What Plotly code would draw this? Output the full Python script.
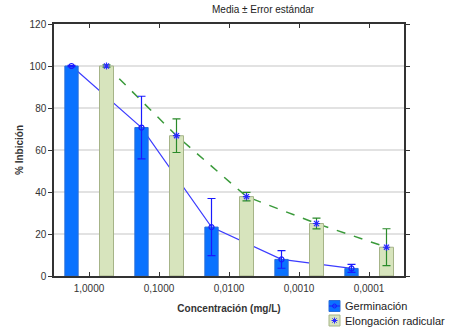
import plotly.graph_objects as go

categories = ["1,0000", "0,1000", "0,0100", "0,0010", "0,0001"]
germ_mean = [100.0, 70.7, 23.3, 7.9, 3.6]
germ_err = [0.3, 14.9, 13.6, 4.2, 1.9]
elong_mean = [100.0, 66.8, 37.8, 25.0, 13.7]
elong_err = [0.6, 8.0, 2.0, 2.6, 8.8]
y_ticks = [0, 20, 40, 60, 80, 100, 120]
legend_names = ["Germinación", "Elongación radicular"]

idx = list(range(len(categories)))
x_germ = [i - 0.25 for i in idx]
x_elong = [i + 0.25 for i in idx]

font_family = "Liberation Sans, Arial, sans-serif"
W, H = 451, 332
L, R, T, B = 54, 47, 24, 56
pw, ph = W - L - R, H - T - B


def px(x):
    return (x - L) / pw


def py(y):
    return (H - B - y) / ph


GERM_FILL, GERM_EDGE = "#0a72ff", "#2a6fd8"
EL_FILL, EL_EDGE = "#d7e4bd", "#a6b488"
BLUE = "#1a1aff"
GREEN_LINE = "#3a9a3a"

fig = go.Figure()

# connecting lines (drawn underneath the bars)
fig.add_trace(go.Scatter(
    x=x_germ, y=germ_mean, mode="lines", yaxis="y",
    line=dict(color="#3c3cff", width=1.2),
))
fig.add_trace(go.Scatter(
    x=x_elong, y=elong_mean, mode="lines", yaxis="y",
    line=dict(color=GREEN_LINE, width=1.5, dash="dash"),
))

# bars
fig.add_trace(go.Bar(
    x=idx, y=germ_mean, name=legend_names[0], yaxis="y2",
    width=0.19, offset=-0.345,
    marker=dict(color=GERM_FILL, line=dict(color=GERM_EDGE, width=1)),
))
fig.add_trace(go.Bar(
    x=idx, y=elong_mean, name=legend_names[1], yaxis="y2",
    width=0.2, offset=0.15,
    marker=dict(color=EL_FILL, line=dict(color=EL_EDGE, width=1)),
))

# markers + error bars on top
fig.add_trace(go.Scatter(
    x=x_germ, y=germ_mean, mode="markers", yaxis="y3",
    marker=dict(symbol="circle-open", size=5, color=BLUE, line=dict(width=1.2)),
    error_y=dict(type="data", array=germ_err, visible=True, color=BLUE, thickness=1.2, width=4),
))
fig.add_trace(go.Scatter(
    x=x_elong, y=elong_mean, mode="markers", yaxis="y3",
    marker=dict(symbol="asterisk-open", size=6, color="#2a2aff", line=dict(width=1.2, color="#2a2aff")),
    error_y=dict(type="data", array=elong_err, visible=True, color="#2a8a2a", thickness=1.2, width=4),
))

shapes = []
annotations = [
    dict(text="Media ± Error estándar", x=px(263), xref="paper", y=py(10), yref="paper",
         showarrow=False, font=dict(size=10, color="#222222"), yanchor="middle", xanchor="center"),
]

# manual legend
bx0, bx1 = 329, 340
rows = [(300.5, 311.5), (315, 326)]
fills = [(GERM_FILL, GERM_EDGE), (EL_FILL, EL_EDGE)]
for (y0, y1), (fc, ec), name in zip(rows, fills, legend_names):
    shapes.append(dict(type="rect", xref="paper", yref="paper",
                       x0=px(bx0), x1=px(bx1), y0=py(y1), y1=py(y0),
                       fillcolor=fc, line=dict(color=ec, width=1)))
    annotations.append(dict(text=name, x=px(343), y=py((y0 + y1) / 2), xref="paper", yref="paper",
                            showarrow=False, xanchor="left", yanchor="middle",
                            font=dict(size=11, color="#222222")))
cy = (rows[0][0] + rows[0][1]) / 2
cx = (bx0 + bx1) / 2
shapes.append(dict(type="line", xref="paper", yref="paper", x0=px(bx0), x1=px(bx1),
                   y0=py(cy), y1=py(cy), line=dict(color=BLUE, width=1)))
shapes.append(dict(type="circle", xref="paper", yref="paper", x0=px(cx - 2), x1=px(cx + 2),
                   y0=py(cy + 2), y1=py(cy - 2), line=dict(color=BLUE, width=1)))
cy = (rows[1][0] + rows[1][1]) / 2
for dx, dy in [(3, 0), (0, 3), (2.2, 2.2), (2.2, -2.2)]:
    shapes.append(dict(type="line", xref="paper", yref="paper",
                       x0=px(cx - dx), x1=px(cx + dx), y0=py(cy - dy), y1=py(cy + dy),
                       line=dict(color="#2a2aff", width=1)))

fig.update_layout(
    width=W, height=H,
    margin=dict(l=L, r=R, t=T, b=B, autoexpand=False),
    paper_bgcolor="white", plot_bgcolor="white",
    font=dict(family=font_family, size=10, color="#333333"),
    barmode="overlay",
    showlegend=False,
    shapes=shapes,
    annotations=annotations,
    xaxis=dict(
        range=[-0.5, 4.5], tickvals=idx, ticktext=categories, automargin=False,
        ticks="inside", ticklen=4, tickcolor="#333333", ticklabelstandoff=2,
        showline=True, linecolor="#333333", linewidth=1.5, mirror="ticks",
        showgrid=False, zeroline=False,
        title=dict(text="<b>Concentración (mg/L)</b>", font=dict(size=10, color="#333333"), standoff=12),
    ),
    yaxis=dict(
        range=[0, 120], tickvals=y_ticks, automargin=False,
        ticks="outside", ticklen=4, tickcolor="#333333",
        showline=True, linecolor="#333333", linewidth=1.5, mirror="ticks",
        showgrid=True, gridcolor="#e2e2e2", gridwidth=1.5, zeroline=False,
        title=dict(text="<b>% Inbición</b>", font=dict(size=10, color="#333333"), standoff=4),
    ),
    yaxis2=dict(range=[0, 120], overlaying="y", visible=False, automargin=False),
    yaxis3=dict(range=[0, 120], overlaying="y", visible=False, automargin=False),
)

fig.write_html(
    "out.html",
    config={"displayModeBar": False},
    post_script="document.body.style.margin='0';document.body.style.padding='0';",
)
